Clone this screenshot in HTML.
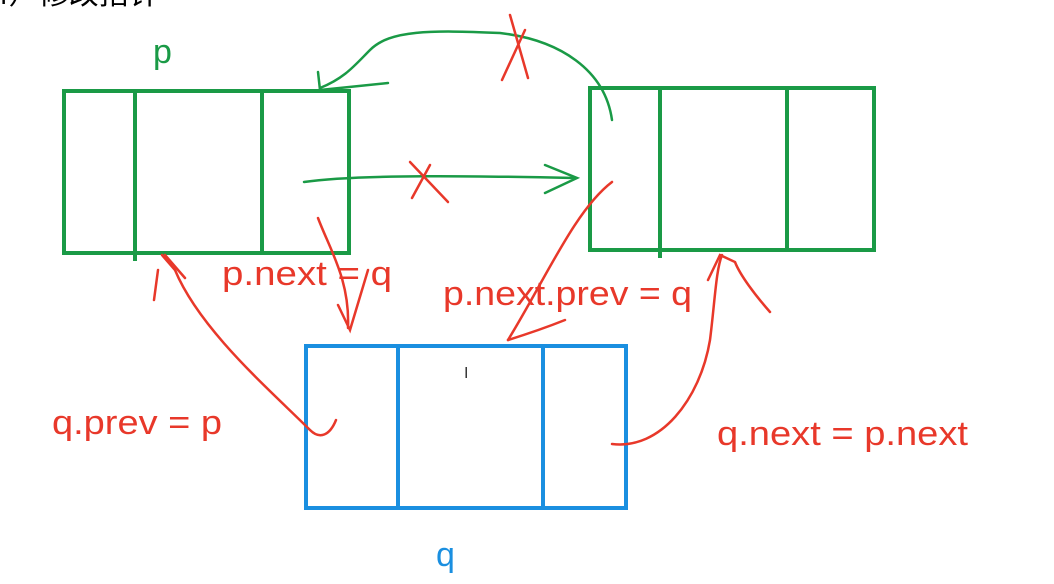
<!DOCTYPE html>
<html><head><meta charset="utf-8"><style>
html,body{margin:0;padding:0;background:#fff;width:1054px;height:584px;overflow:hidden}
svg{display:block}
text{font-family:"Liberation Sans","Noto Sans CJK SC",sans-serif}
</style></head><body>
<svg width="1054" height="584" viewBox="0 0 1054 584">
<text x="-8" y="4" font-size="30" fill="#000">4）修改指针</text>
<g fill="none" stroke="#1a9a46" stroke-width="4">
<rect x="64" y="91" width="285" height="162"/>
<line x1="135" y1="91" x2="135" y2="261"/><line x1="262" y1="91" x2="262" y2="253"/>
</g>
<g fill="none" stroke="#1a9a46" stroke-width="4">
<rect x="590" y="88" width="284" height="162"/>
<line x1="660" y1="88" x2="660" y2="258"/><line x1="787" y1="88" x2="787" y2="250"/>
</g>
<g fill="none" stroke="#1a8fe0" stroke-width="4">
<rect x="306" y="346" width="320" height="162"/>
<line x1="398" y1="346" x2="398" y2="508"/><line x1="543" y1="346" x2="543" y2="508"/>
</g>
<text x="153" y="63" font-size="34" fill="#1a9a46">p</text>
<text x="436" y="566" font-size="34" fill="#1a8fe0">q</text>
<g fill="none" stroke="#1a9a46" stroke-width="2.5" stroke-linecap="round">
<path d="M612 120 C605 70 560 40 500 33 C430 30 390 30 370 50 C355 65 345 78 320 88"/>
<path d="M318 72 L320 90 L388 83"/>
<path d="M304 182 C360 174 480 176 575 178"/>
<path d="M545 165 L577 178 L545 193"/>
</g>
<g fill="none" stroke="#e8382a" stroke-width="2.5" stroke-linecap="round">
<path d="M510 15 L528 78"/><path d="M525 30 L502 80"/>
<path d="M410 162 L448 202"/><path d="M430 165 L412 198"/>
<path d="M318 218 C330 250 350 280 348 328"/><path d="M338 305 L350 330 L368 270"/>
<path d="M612 182 C575 210 545 280 508 340"/><path d="M508 340 C540 330 560 322 565 320"/>
<path d="M612 444 C660 450 700 400 710 340 C715 300 716 270 722 255"/>
<path d="M708 280 L720 255 L735 262 C740 275 755 295 770 312"/>
<path d="M336 420 C330 435 320 440 310 430 C270 390 200 330 175 270 L162 255"/>
<path d="M158 270 L154 300"/><path d="M165 255 L185 278"/>
</g>
<g font-size="34" fill="#e8382a">
<text x="222" y="285" textLength="170" lengthAdjust="spacingAndGlyphs">p.next = q</text>
<text x="443" y="305" textLength="249" lengthAdjust="spacingAndGlyphs">p.next.prev = q</text>
<text x="52" y="434" textLength="170" lengthAdjust="spacingAndGlyphs">q.prev = p</text>
<text x="717" y="445" textLength="251" lengthAdjust="spacingAndGlyphs">q.next = p.next</text>
</g>
<text x="464" y="378" font-size="16" fill="#333">I</text>
</svg>
</body></html>
